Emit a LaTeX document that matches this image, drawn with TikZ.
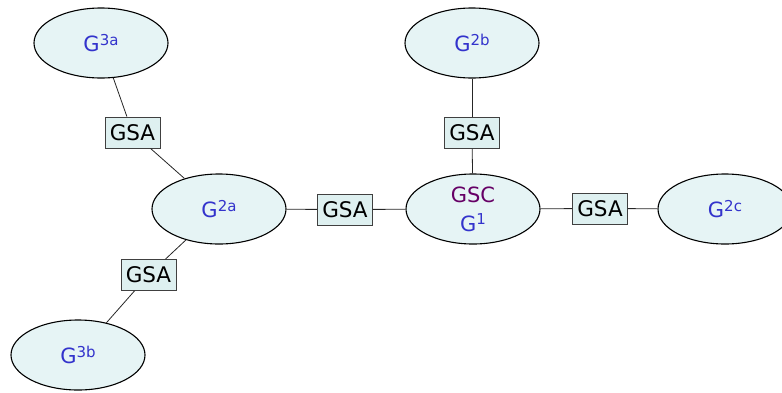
\documentclass[tikz,border=0pt]{standalone}
\usepackage{fontspec}
\setmainfont{DejaVu Sans}
\usetikzlibrary{shapes.geometric}
\definecolor{efill}{RGB}{230,244,245}
\definecolor{bfill}{RGB}{222,240,240}
\definecolor{gblue}{RGB}{51,51,204}
\definecolor{gpurp}{RGB}{102,0,102}
\newcommand{\gsup}[1]{\raisebox{6.5pt}{\fontsize{15}{15}\selectfont #1}}
\begin{document}
\begin{tikzpicture}[x=1pt,y=-1pt,
  ell/.style={ellipse,draw=black,line width=1.1pt,fill=efill,minimum width=134pt,minimum height=70pt,inner sep=0pt,text=gblue,font=\fontsize{21}{29}\selectfont,align=center},
  gsabox/.style={rectangle,draw=black!75,line width=0.9pt,fill=bfill,minimum width=55pt,minimum height=31pt,inner sep=0pt,font=\fontsize{21.5}{25}\selectfont},
  conn/.style={draw=black!85,line width=0.8pt}]
\useasboundingbox (0,0) rectangle (782,392);
\node[ell] (g3a) at (101,43) {G\gsup{3a}};
\node[ell] (g2b) at (472,43) {G\gsup{2b}};
\node[ell] (g2a) at (219,209) {G\gsup{2a}};
\node[ell] (g1) at (473,209) {\textcolor{gpurp}{GSC}\\G\gsup{1}};
\node[ell] (g2c) at (725,209) {G\gsup{2c}};
\node[ell] (g3b) at (78,355) {G\gsup{3b}};
\node[gsabox] (s1) at (132.5,132.5) {GSA};
\node[gsabox] (s2) at (345,209.5) {GSA};
\node[gsabox] (s3) at (472,133) {GSA};
\node[gsabox] (s4) at (600,208.5) {GSA};
\node[gsabox] (s5) at (148.5,275) {GSA};
\draw[conn] (g3a) -- (s1);
\draw[conn] (s1) -- (g2a);
\draw[conn] (g2a) -- (s5);
\draw[conn] (s5) -- (g3b);
\draw[conn] (g2a) -- (s2);
\draw[conn] (s2) -- (g1);
\draw[conn] (g1) -- (s3);
\draw[conn] (s3) -- (g2b);
\draw[conn] (g1) -- (s4);
\draw[conn] (s4) -- (g2c);
\end{tikzpicture}
\end{document}
